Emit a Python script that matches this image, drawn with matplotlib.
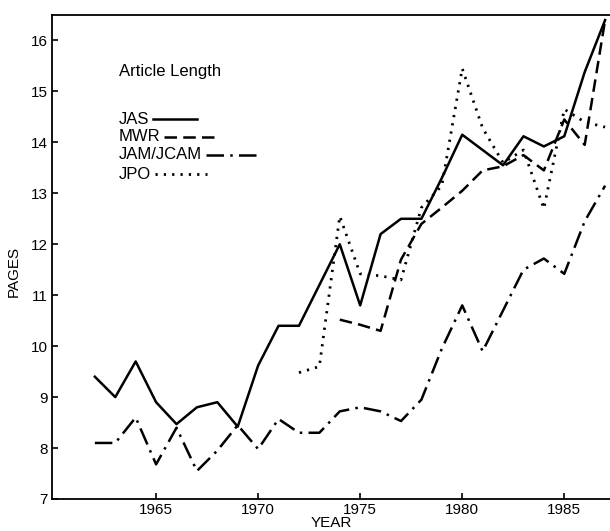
import matplotlib
matplotlib.use("Agg")
import matplotlib.pyplot as plt
from matplotlib.lines import Line2D

# average article length (pages) per journal
years_jas = list(range(1962, 1988))
jas = [9.4, 9.0, 9.7, 8.9, 8.47, 8.8, 8.9, 8.42, 9.62, 10.4, 10.4, 11.2, 12.0,
       10.8, 12.2, 12.5, 12.5, 13.3, 14.15, 13.85, 13.55, 14.12, 13.92, 14.12,
       15.38, 16.4]

years_mwr = list(range(1974, 1988))
mwr = [10.52, 10.42, 10.3, 11.7, 12.4, 12.72, 13.05, 13.45, 13.53, 13.75,
       13.45, 14.45, 13.95, 16.4]

years_jam = list(range(1962, 1988))
jam = [8.1, 8.1, 8.6, 7.68, 8.4, 7.55, 7.95, 8.45, 7.98, 8.57, 8.3, 8.3, 8.72,
       8.8, 8.72, 8.53, 8.95, 9.95, 10.8, 9.9, 10.7, 11.5, 11.72, 11.42,
       12.45, 13.15]

years_jpo = list(range(1972, 1988))
jpo = [9.48, 9.6, 12.55, 11.42, 11.38, 11.3, 12.72, 13.15, 15.45, 14.28,
       13.6, 13.85, 12.7, 14.65, 14.4, 14.3]

xticks = [1965, 1970, 1975, 1980, 1985]
yticks = [7, 8, 9, 10, 11, 12, 13, 14, 15, 16]

plt.rcParams['font.family'] = ['Liberation Sans', 'DejaVu Sans']

fig = plt.figure(figsize=(6.10, 5.31), dpi=100)
ax = fig.add_axes([52 / 610, 32 / 531, 1 - 52 / 610 + 0.002, 484 / 531])

styles = {
    'JAS': dict(linestyle='-', linewidth=1.8),
    'MWR': dict(linestyle=(0, (5, 2.5)), linewidth=1.8),
    'JAM/JCAM': dict(linestyle=(0, (7, 2.5, 1, 2.5)), linewidth=1.8),
    'JPO': dict(linestyle=(0, (0.8, 2.2)), linewidth=2.0),
}

ax.plot(years_jas, jas, color='black', **styles['JAS'])
ax.plot(years_mwr, mwr, color='black', **styles['MWR'])
ax.plot(years_jam, jam, color='black', **styles['JAM/JCAM'])
ax.plot(years_jpo, jpo, color='black', **styles['JPO'])

ax.set_xlim(1959.9, 1987.3)
ax.set_ylim(7, 16.5)
ax.set_xticks(xticks)
ax.set_yticks(yticks)
ax.tick_params(direction='in', length=4, width=1.2, labelsize=11, pad=3)
ax.spines['right'].set_visible(False)
for s in ['left', 'bottom', 'top']:
    ax.spines[s].set_linewidth(1.3)

ax.set_xlabel('YEAR', fontsize=11, labelpad=-1)
ax.set_ylabel('PAGES', fontsize=11)
ax.yaxis.set_label_coords(-0.056, 0.47)

# hand drawn style key: text followed by a line sample
ax.text(0.119, 0.883, 'Article Length', transform=ax.transAxes,
        fontsize=12, va='center', ha='left')
key_y = [0.785, 0.748, 0.711, 0.671]
key_len = [0.079, 0.099, 0.095, 0.093]
fig.canvas.draw()
renderer = fig.canvas.get_renderer()
for name, y, ln in zip(['JAS', 'MWR', 'JAM/JCAM', 'JPO'], key_y, key_len):
    t = ax.text(0.119, y, name, transform=ax.transAxes, fontsize=12,
                va='center', ha='left')
    bb = t.get_window_extent(renderer).transformed(ax.transAxes.inverted())
    x0 = bb.x1 + 0.007
    ax.add_line(Line2D([x0, x0 + ln], [y, y], transform=ax.transAxes,
                       color='black', **styles[name]))

fig.savefig('out.png', dpi=100)
